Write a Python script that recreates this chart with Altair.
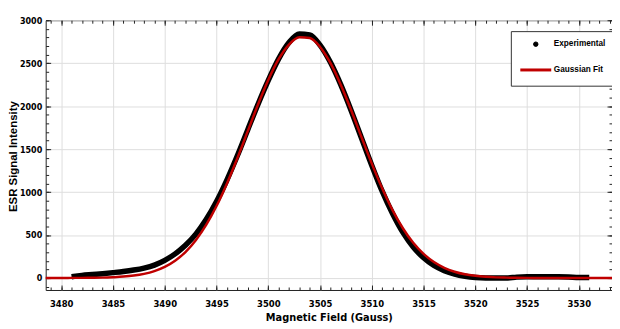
import altair as alt
import pandas as pd

# Gaussian fit (red line)
fit_field = [3478, 3479, 3480, 3481, 3482, 3483, 3484, 3485, 3486, 3487, 3488, 3489,
             3490, 3491, 3492, 3493, 3494, 3495, 3496, 3497, 3498, 3499, 3500, 3501,
             3502, 3503, 3504, 3505, 3506, 3507, 3508, 3509, 3510, 3511, 3512, 3513,
             3514, 3515, 3516, 3517, 3518, 3519, 3520, 3521, 3522, 3523, 3524, 3525,
             3526, 3527, 3528, 3529, 3530, 3531, 3532, 3533, 3534]
fit_int = [0, 0, 0, 1, 1, 2, 4, 9, 16, 28, 48, 80,
           129, 201, 302, 440, 617, 837, 1098, 1391, 1703, 2016, 2304, 2546,
           2717, 2802, 2793, 2689, 2503, 2250, 1955, 1641, 1331, 1044, 790, 579,
           409, 280, 185, 118, 73, 43, 25, 14, 7, 4, 2, 1,
           0, 0, 0, 0, 0, 0, 0, 0, 0]

exp_field = [3481, 3482, 3483, 3484, 3485, 3486, 3487, 3488, 3489, 3490, 3491, 3492,
             3493, 3494, 3495, 3496, 3497, 3498, 3499, 3500, 3501, 3502, 3503, 3504,
             3505, 3506, 3507, 3508, 3509, 3510, 3511, 3512, 3513, 3514, 3515, 3516,
             3517, 3518, 3519, 3520, 3521, 3522, 3523, 3524, 3525, 3526, 3527, 3528,
             3529, 3530, 3531]
exp_int = [15, 30, 40, 50, 62, 75, 92, 115, 150, 205, 280, 380,
           510, 680, 890, 1140, 1420, 1720, 2020, 2300, 2550, 2740, 2840, 2830,
           2710, 2510, 2250, 1950, 1630, 1310, 1010, 750, 530, 360, 235, 145,
           85, 45, 20, 5, 0, 0, 0, 10, 15, 15, 15, 15,
           12, 5, 5]

x_major = [3480, 3485, 3490, 3495, 3500, 3505, 3510, 3515, 3520, 3525, 3530]
x_minor = [3479, 3480, 3481, 3482, 3483, 3484, 3485, 3486, 3487, 3488, 3489, 3490,
           3491, 3492, 3493, 3494, 3495, 3496, 3497, 3498, 3499, 3500, 3501, 3502,
           3503, 3504, 3505, 3506, 3507, 3508, 3509, 3510, 3511, 3512, 3513, 3514,
           3515, 3516, 3517, 3518, 3519, 3520, 3521, 3522, 3523, 3524, 3525, 3526,
           3527, 3528, 3529, 3530, 3531, 3532, 3533]
y_major = [0, 500, 1000, 1500, 2000, 2500, 3000]
y_minor = [-100, 0, 100, 200, 300, 400, 500, 600, 700, 800, 900, 1000, 1100, 1200,
           1300, 1400, 1500, 1600, 1700, 1800, 1900, 2000, 2100, 2200, 2300, 2400,
           2500, 2600, 2700, 2800, 2900, 3000]

series_names = ["Experimental", "Gaussian Fit"]
series_colors = ["#000000", "#c00000"]

W, H = 571, 272
NARROW = "DejaVu Sans Condensed, Liberation Sans Narrow, Liberation Sans, Arial, sans-serif"
WIDE = "Liberation Sans, Arial, sans-serif"

fit_df = pd.DataFrame({"field": fit_field, "intensity": fit_int, "series": "Gaussian Fit"})
exp_df = pd.DataFrame({"field": exp_field, "intensity": exp_int, "series": "Experimental"})

xs = alt.Scale(domain=[3478.5, 3533.2], nice=False, zero=False)
ys = alt.Scale(domain=[-140, 3000], nice=False, zero=False)

def xenc(axis):
    return alt.X("field:Q", scale=xs, axis=axis)

def yenc(axis):
    return alt.Y("intensity:Q", scale=ys, axis=axis)

tick_col = "#222222"

def tick_axis(orient, values, size, offset):
    return alt.Axis(orient=orient, values=values, tickSize=size, offset=offset,
                    labels=False, domain=False, grid=False, title="",
                    tickColor=tick_col, tickWidth=1)

is_exp = "datum.value === 'Experimental'"
legend = alt.Legend(
    orient="none", legendX=469, legendY=11, title=None,
    fillColor="#ffffff", strokeColor="#333333", padding=9,
    labelFont=WIDE, labelFontSize=8.3, labelFontWeight="bold", labelColor="#000",
    labelOffset=14, rowPadding=15, symbolOffset=12,
    symbolType=alt.ExprRef(expr=f"{is_exp} ? 'circle' : 'M-6,0H6'"),
    symbolSize=alt.ExprRef(expr=f"{is_exp} ? 20 : 27"),
    symbolFillColor=alt.ExprRef(expr=f"{is_exp} ? '#000000' : 'transparent'"),
    symbolStrokeColor=alt.ExprRef(expr=f"{is_exp} ? '#000000' : '#c00000'"),
    symbolStrokeWidth=alt.ExprRef(expr=f"{is_exp} ? 1 : 3"),
    symbolOpacity=1,
)

color = alt.Color("series:N", scale=alt.Scale(domain=series_names, range=series_colors),
                  legend=legend)

main_x = alt.Axis(orient="bottom", values=x_major, format="d", ticks=False, domain=False,
                  grid=True, gridColor="#dedede", gridWidth=1, labelFont=NARROW,
                  labelFontSize=9.5, labelFontWeight="bold", labelColor="#000", labelPadding=9,
                  title="Magnetic Field (Gauss)", titleFont=NARROW, titleFontSize=11,
                  titleFontWeight="bold", titleColor="#000", titleBaseline="middle",
                  titleY=28)
main_y = alt.Axis(orient="left", values=y_major, format="d", ticks=False, domain=False,
                  grid=True, gridColor="#dedede", gridWidth=1, labelFont=NARROW,
                  labelFontSize=9, labelFontWeight="bold", labelColor="#000", labelPadding=4,
                  title="ESR Signal Intensity", titleFont=WIDE, titleFontSize=11.5,
                  titleFontWeight="bold", titleColor="#000", titleBaseline="middle",
                  titleX=-32, titleY=137)

exp_layer = alt.Chart(exp_df).mark_line(strokeWidth=5.5, strokeCap="butt", clip=True,
                                        interpolate="monotone").encode(
    x=xenc(main_x), y=yenc(main_y), color=color)

fit_layer = alt.Chart(fit_df).mark_line(strokeWidth=2.5, clip=True,
                                        interpolate="monotone").encode(
    x=xenc(tick_axis("top", x_major, 5, -H)),
    y=yenc(tick_axis("right", y_major, 5, -W)),
    color=alt.Color("series:N", scale=alt.Scale(domain=series_names, range=series_colors)))

ghost1 = alt.Chart(fit_df).mark_point(opacity=0).encode(
    x=xenc(tick_axis("top", x_minor, 3, -H)),
    y=yenc(tick_axis("right", y_minor, 3, -W)))
ghost2 = alt.Chart(fit_df).mark_point(opacity=0).encode(
    x=xenc(tick_axis("bottom", x_major, 5, -H)),
    y=yenc(tick_axis("left", y_major, 5, -W)))
ghost3 = alt.Chart(fit_df).mark_point(opacity=0).encode(
    x=xenc(tick_axis("bottom", x_minor, 3, -H)),
    y=yenc(tick_axis("left", y_minor, 3, -W)))

chart = alt.layer(exp_layer, fit_layer, ghost1, ghost2, ghost3).resolve_scale(
    x="shared", y="shared", color="shared"
).resolve_axis(x="independent", y="independent").properties(
    width=W, height=H,
    autosize=alt.AutoSizeParams(type="none"),
    padding={"left": 38, "top": 11, "right": 0, "bottom": 38},
    background="#ffffff",
).configure_view(stroke="#222222", strokeWidth=1)

chart.save("out.html", embed_options={"renderer": "svg", "actions": False})
